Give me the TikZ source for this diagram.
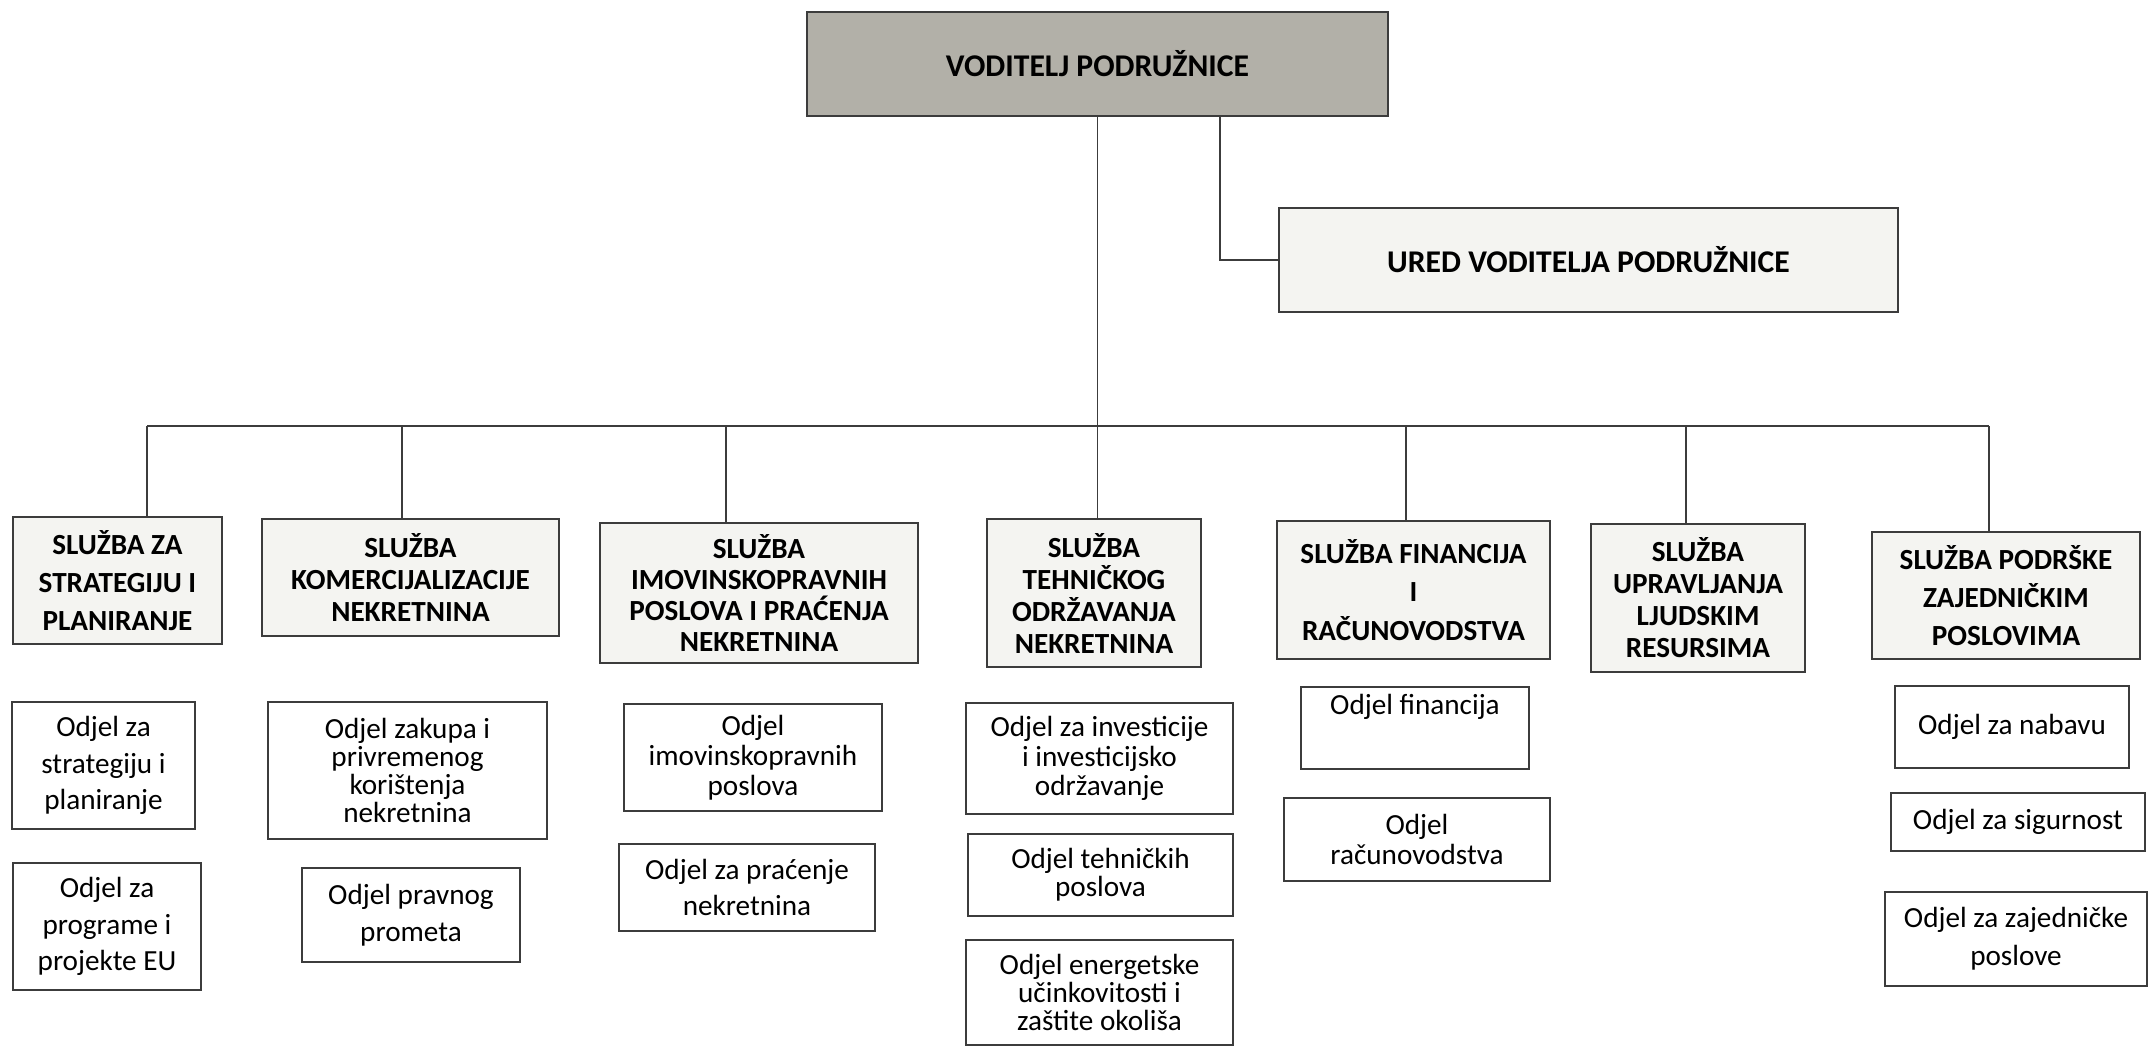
\documentclass[tikz,border=0pt]{standalone}
\usepackage{fontspec}
\setmainfont{Carlito}
\definecolor{linegray}{RGB}{60,60,60}
\definecolor{headfill}{RGB}{178,176,168}
\definecolor{sluzbafill}{RGB}{244,244,241}
\tikzset{
  wh/.style 2 args={minimum width=#1*0.01cm, minimum height=#2*0.01cm},
  headbox/.style={draw=linegray, line width=0.5pt, fill=headfill, inner sep=0pt,
    font=\bfseries\fontsize{9}{11}\selectfont},
  uredbox/.style={draw=linegray, line width=0.5pt, fill=sluzbafill, inner sep=0pt,
    font=\bfseries\fontsize{9}{11}\selectfont},
  sluzba/.style={draw=linegray, line width=0.5pt, fill=sluzbafill, inner sep=0pt,
    align=center, font=\bfseries\fontsize{8.3}{#1}\selectfont},
  sluzba/.default=10.8pt,
  odjel/.style={draw=linegray, line width=0.5pt, fill=white, inner sep=0pt,
    align=center, font=\fontsize{8.3}{#1}\selectfont},
  odjel/.default=10.4pt,
  veza/.style={draw=linegray, line width=0.4pt}
}
\begin{document}
\begin{tikzpicture}[x=0.01cm, y=-0.01cm]
    \useasboundingbox (0,0) rectangle (2151,1048);

    \node[headbox, wh={581}{104}] (top) at (1097.5,64) {VODITELJ PODRUŽNICE};
    \node[uredbox, wh={619}{104}] (ured) at (1588.5,260) {URED VODITELJA PODRUŽNICE};

    \node[sluzba, wh={209}{127}] (s1) at (117.5,580.5) {SLUŽBA ZA\\STRATEGIJU I\\PLANIRANJE};
    \node[sluzba=9.2pt, wh={297}{117}] (s2) at (410.5,577.5) {SLUŽBA\\KOMERCIJALIZACIJE\\NEKRETNINA};
    \node[sluzba=8.8pt, wh={318}{140}] (s3) at (759,593) {SLUŽBA\\IMOVINSKOPRAVNIH\\POSLOVA I PRAĆENJA\\NEKRETNINA};
    \node[sluzba=9.1pt, wh={214}{148}] (s4) at (1094,593) {SLUŽBA\\TEHNIČKOG\\ODRŽAVANJA\\NEKRETNINA};
    \node[sluzba=11pt, wh={273}{138}] (s5) at (1413.5,590) {SLUŽBA FINANCIJA\\I\\RAČUNOVODSTVA};
    \node[sluzba=9.1pt, wh={214}{148}] (s6) at (1698,598) {SLUŽBA\\UPRAVLJANJA\\LJUDSKIM\\RESURSIMA};
    \node[sluzba, wh={268}{127}] (s7) at (2006,595.5) {SLUŽBA PODRŠKE\\ZAJEDNIČKIM\\POSLOVIMA};

    \node[odjel, wh={183}{127}] (o11) at (103.5,765.5) {Odjel za\\strategiju i\\planiranje};
    \node[odjel, wh={188}{127}] (o12) at (107,926.5) {Odjel za\\programe i\\projekte EU};
    \node[odjel=8pt, wh={279}{137}] (o21) at (407.5,770.5) {Odjel zakupa i\\privremenog\\korištenja\\nekretnina};
    \node[odjel=10.5pt, wh={218}{94}] (o22) at (411,915) {Odjel pravnog\\prometa};
    \node[odjel=8.5pt, wh={258}{107}] (o31) at (753,757.5) {Odjel\\imovinskopravnih\\poslova};
    \node[odjel=10pt, wh={256}{87}] (o32) at (747,887.5) {Odjel za praćenje\\nekretnina};
    \node[odjel=8.3pt, wh={267}{111}] (o41) at (1099.5,758.5) {Odjel za investicije\\i investicijsko\\održavanje};
    \node[odjel=8pt, wh={265}{82}] (o42) at (1100.5,875) {Odjel tehničkih\\poslova};
    \node[odjel=7.9pt, wh={267}{105}] (o43) at (1099.5,992.5) {Odjel energetske\\učinkovitosti i\\zaštite okoliša};
    \node[odjel, wh={228}{82}] (o51) at (1415,728) {Odjel financija\\\strut};
    \node[odjel=8.5pt, wh={266}{83}] (o52) at (1417,839.5) {Odjel\\računovodstva};
    \node[odjel, wh={234}{82}] (o71) at (2012,727) {Odjel za nabavu};
    \node[odjel, wh={254}{58}] (o72) at (2018,822) {Odjel za sigurnost};
    \node[odjel=10.8pt, wh={262}{94}] (o73) at (2016,939) {Odjel za zajedničke\\poslove};

    \coordinate (d1) at (147,426);
    \coordinate (d2) at (402,426);
    \coordinate (d3) at (726,426);
    \coordinate (d5) at (1406,426);
    \coordinate (d6) at (1686,426);
    \coordinate (d7) at (1989,426);
    \coordinate (u1) at (1220,253);

    \draw[veza] (top.south) -- (top.south |- s4.north);
    \draw[veza] (u1 |- top.south) |- (ured.west);
    \draw[veza] (d1) -- (d7);
    \foreach \d/\s in {d1/s1, d2/s2, d3/s3, d5/s5, d6/s6, d7/s7}
        \draw[veza] (\d) -- (\d |- \s.north);
\end{tikzpicture}
\end{document}
